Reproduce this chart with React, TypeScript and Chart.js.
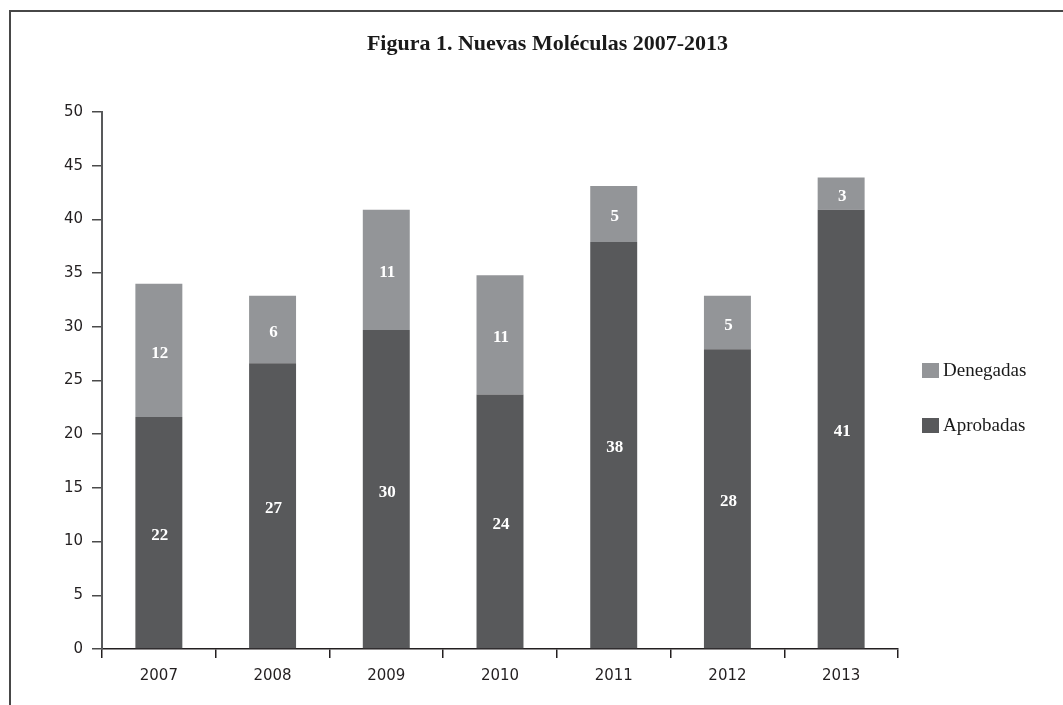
import React, { useEffect, useRef } from 'react';
import { Chart, registerables } from 'chart.js';

Chart.register(...registerables);

const categories = ['2007', '2008', '2009', '2010', '2011', '2012', '2013'];
const aprobadas = [21.6, 26.6, 29.7, 23.7, 37.9, 27.9, 40.9];
const denegadas = [12.4, 6.3, 11.2, 11.1, 5.2, 5.0, 3.0];
const yMin = 0;
const yMax = 50;
const yStep = 5;
const chartTitle = 'Figura 1. Nuevas Moléculas 2007-2013';
const seriesNames = ['Aprobadas', 'Denegadas'];

const DARK = '#58595b';
const LIGHT = '#939598';
const SERIF = '"Liberation Serif", "DejaVu Serif", serif';
const SANS = '"DejaVu Sans", sans-serif';

const barLabelPlugin = {
  id: 'barLabels',
  afterDatasetsDraw(chart: any) {
    const ctx = chart.ctx;
    ctx.save();
    ctx.fillStyle = '#ffffff';
    ctx.font = `bold 17px ${SERIF}`;
    ctx.textAlign = 'center';
    ctx.textBaseline = 'middle';
    chart.data.datasets.forEach((ds: any, di: number) => {
      const meta = chart.getDatasetMeta(di);
      meta.data.forEach((el: any, i: number) => {
        const p = el.getProps(['x', 'y', 'base'], true);
        const v = ds.data[i];
        ctx.fillText(String(Math.round(v)), p.x + 1, (p.y + p.base) / 2 + 3);
      });
    });
    ctx.restore();
  },
};

const titleLegendPlugin = {
  id: 'titleLegend',
  afterDraw(chart: any) {
    const ctx = chart.ctx;
    const area = chart.chartArea;
    ctx.save();
    // title
    ctx.fillStyle = '#1a1a1a';
    ctx.font = `bold 22px ${SERIF}`;
    ctx.textAlign = 'center';
    ctx.textBaseline = 'alphabetic';
    ctx.fillText(chartTitle, chart.width / 2 + 16, 50);
    // legend (reversed order: top series first)
    const items = chart.data.datasets.map((d: any) => ({ label: d.label, color: d.backgroundColor })).reverse();
    const x0 = area.right + 24;
    items.forEach((it: any, i: number) => {
      const cy = area.top + 258 + i * 55;
      ctx.fillStyle = it.color;
      ctx.fillRect(x0, cy - 7, 17, 15);
      ctx.fillStyle = '#1a1a1a';
      ctx.font = `19px ${SERIF}`;
      ctx.textAlign = 'left';
      ctx.textBaseline = 'middle';
      ctx.fillText(it.label, x0 + 21, cy + 1);
    });
    ctx.restore();
  },
};

export default function App() {
  const ref = useRef<HTMLCanvasElement | null>(null);

  useEffect(() => {
    if (!ref.current) return;
    const chart = new Chart(ref.current, {
      type: 'bar',
      data: {
        labels: categories,
        datasets: [
          { label: seriesNames[0], data: aprobadas, backgroundColor: DARK, borderWidth: 0 },
          { label: seriesNames[1], data: denegadas, backgroundColor: LIGHT, borderWidth: 0 },
        ],
      },
      options: {
        responsive: false,
        animation: false,
        events: [],
        layout: { padding: { left: 42, right: 165, top: 112, bottom: 16 } },
        datasets: { bar: { categoryPercentage: 1, barPercentage: 0.413 } },
        plugins: {
          legend: { display: false },
          title: { display: false },
          tooltip: { enabled: false },
        },
        scales: {
          x: {
            stacked: true,
            offset: true,
            afterFit: (s: any) => { s.height = 40; },
            grid: { offset: true, drawOnChartArea: false, drawTicks: true, tickLength: 9, color: '#231f20', lineWidth: 1.5 },
            border: { display: true, color: '#231f20', width: 1.5 },
            ticks: { color: '#231f20', font: { family: SANS, size: 15 }, padding: 9 },
          },
          y: {
            stacked: true,
            min: yMin,
            max: yMax,
            afterFit: (s: any) => { s.width = 60; },
            grid: { drawOnChartArea: false, drawTicks: true, tickLength: 10, color: '#4a4a4a', lineWidth: 1.5 },
            border: { display: true, color: DARK, width: 2 },
            ticks: { stepSize: yStep, color: '#231f20', font: { family: SANS, size: 15 }, padding: 9 },
          },
        },
      },
      plugins: [barLabelPlugin, titleLegendPlugin],
    });
    return () => chart.destroy();
  }, []);

  return (
    <div style={{ position: 'absolute', left: 0, top: 0, width: 1063, height: 705, overflow: 'hidden', background: '#fff' }}>
      <div style={{ position: 'absolute', left: 9, top: 10, width: 1200, height: 900, borderTop: '2px solid #474747', borderLeft: '2px solid #474747' }} />
      <canvas ref={ref} width={1063} height={705} style={{ position: 'absolute', left: 0, top: 0, width: 1063, height: 705 }} />
    </div>
  );
}
